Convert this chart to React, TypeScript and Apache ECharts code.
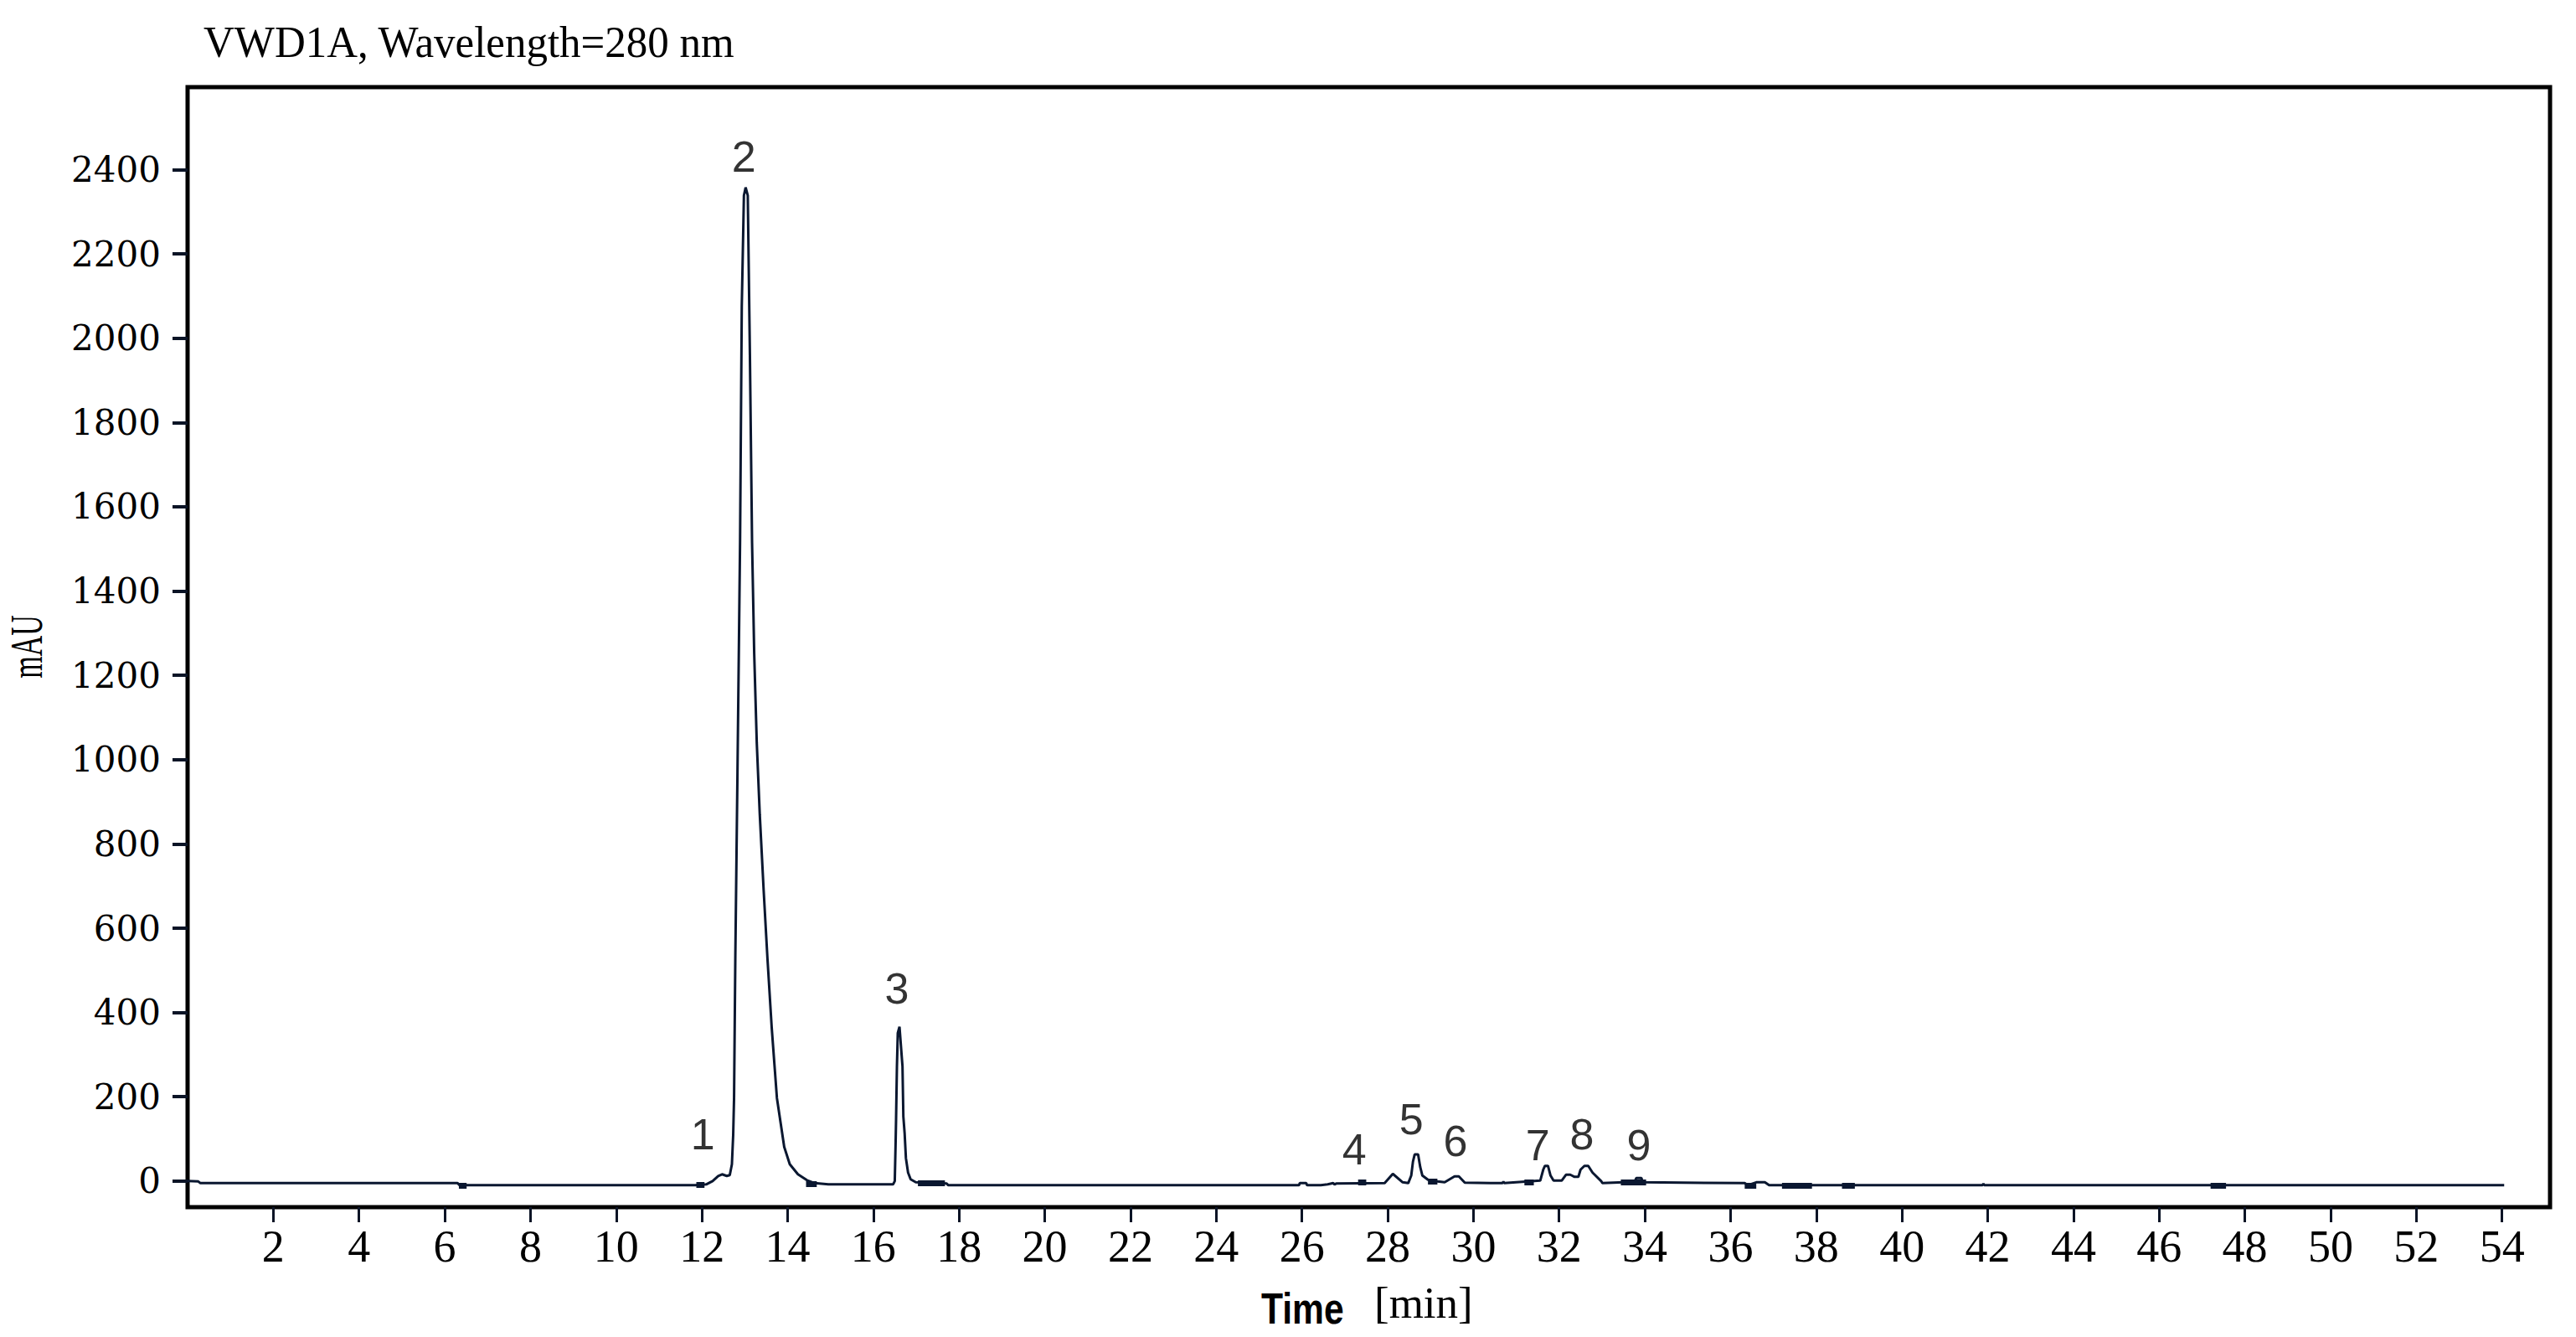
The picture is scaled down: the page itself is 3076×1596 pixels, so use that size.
import React, { useEffect, useRef } from "react";
import * as echarts from "echarts";

// ---- data ----
const timeMin = [
  0.0, 0.25, 0.3, 6.3, 6.35, 11.85, 12.1, 12.25, 12.38, 12.47, 12.58, 12.65, 12.7, 12.73, 12.75, 12.78,
  12.83, 12.89, 12.93, 12.98, 13.02, 13.07, 13.12, 13.17, 13.22, 13.28, 13.35, 13.44, 13.53, 13.63,
  13.75, 13.92, 14.05, 14.24, 14.45, 14.63, 14.95, 16.46, 16.5, 16.52, 16.53, 16.55, 16.57, 16.61,
  16.65, 16.68, 16.7, 16.73, 16.76, 16.81, 16.87, 16.99, 17.71, 17.75, 25.93, 25.95, 26.1, 26.12,
  26.44, 26.6, 26.73, 26.76, 26.8, 27.93, 28.12, 28.35, 28.48, 28.55, 28.59, 28.63, 28.71, 28.76,
  28.81, 28.94, 29.16, 29.33, 29.56, 29.66, 29.8, 30.68, 30.7, 30.72, 31.56, 31.63, 31.67, 31.74,
  31.8, 31.87, 32.06, 32.16, 32.26, 32.36, 32.45, 32.5, 32.59, 32.68, 32.78, 32.98, 33.01, 33.76,
  33.8, 33.92, 33.95, 36.33, 36.4, 36.6, 36.8, 36.9, 41.88, 41.9, 41.92, 54.05,
];
const signalMAU = [
  0, -1, -5, -5, -10, -10, -8, 0, 12, 16, 12, 14, 40, 110, 197, 535,
  971, 1516, 2074, 2339, 2358, 2339, 1959, 1516, 1252, 1040, 870, 691, 527, 362,
  197, 81, 40, 16, 2, -5, -8, -8, 0, 93, 146, 272, 351, 366,
  312, 272, 153, 113, 54, 20, 4, -3, -6, -10, -10, -5, -5, -10,
  -10, -8, -5, -8, -6, -5, 17, -3, -5, 13, 46, 63, 63, 33,
  13, 3, -1, -3, 11, 11, -4, -5, -1, -5, 1, 27, 36, 36,
  13, 1, 1, 15, 15, 10, 10, 27, 36, 36, 20, 0, -5, -2,
  7, 7, -3, -5, -10, -3, -3, -10, -10, -6, -10, -10,
];

// integration baseline markers (short thick segments on the trace)
const markerStart = [6.33, 11.87, 14.43, 17.04, 27.31, 28.94, 31.19, 33.44, 36.33, 37.2, 38.6, 47.2];
const markerEnd = [6.51, 12.06, 14.68, 17.67, 27.5, 29.16, 31.41, 34.03, 36.6, 37.9, 38.9, 47.56];
const markerLevel = [-10, -8, -6, -5, -2, -1, -3, -2, -10, -10, -10, -10];

const peakNames = ["1", "2", "3", "4", "5", "6", "7", "8", "9"];
const peakLabelTime = [12.02, 12.98, 16.55, 27.22, 28.55, 29.58, 31.5, 32.53, 33.86];
const peakLabelHeight = [111, 2431, 457, 76, 147, 95, 85, 111, 85];

const xTickValues = [2, 4, 6, 8, 10, 12, 14, 16, 18, 20, 22, 24, 26, 28, 30, 32, 34, 36, 38, 40, 42, 44, 46, 48, 50, 52, 54];
const yTickValues = [0, 200, 400, 600, 800, 1000, 1200, 1400, 1600, 1800, 2000, 2200, 2400];

const titleText = "VWD1A, Wavelength=280 nm";
const yAxisName = "mAU";
const xAxisNameMain = "Time";
const xAxisNameUnit = "[min]";

const X_MIN = 0;
const X_MAX = 55.12;
const Y_MIN = -62;
const Y_MAX = 2596;

const LINE_COLOR = "#0a1730";

export default function App() {
  const ref = useRef<HTMLDivElement | null>(null);

  useEffect(() => {
    if (!ref.current) return;
    const chart = echarts.init(ref.current, null, { renderer: "svg" });

    const lineData = timeMin.map((t, i) => [t, signalMAU[i]]);
    const labelData = peakNames.map((n, i) => ({ name: n, value: [peakLabelTime[i], peakLabelHeight[i]] }));
    const markerLines = markerStart.map((s, i) => [
      { coord: [s, markerLevel[i]] },
      { coord: [markerEnd[i], markerLevel[i]] },
    ]);

    chart.setOption({
      animation: false,
      backgroundColor: "#ffffff",
      grid: {
        show: true,
        left: 224,
        right: 31,
        top: 104,
        bottom: 155,
        containLabel: false,
        borderColor: "#000000",
        borderWidth: 5,
        backgroundColor: "transparent",
      },
      xAxis: {
        type: "value",
        min: X_MIN,
        max: X_MAX,
        axisLine: { show: false, onZero: false },
        splitLine: { show: false },
        axisTick: {
          show: true,
          inside: false,
          length: 18,
          customValues: xTickValues,
          lineStyle: { color: "#0b1426", width: 3 },
        },
        axisLabel: {
          show: true,
          customValues: xTickValues,
          formatter: (v: number) => String(v),
          fontFamily: "Liberation Serif",
          fontSize: 54,
          color: "#000000",
          margin: 20,
        },
      },
      yAxis: {
        type: "value",
        min: Y_MIN,
        max: Y_MAX,
        axisLine: { show: false, onZero: false },
        splitLine: { show: false },
        axisTick: {
          show: true,
          inside: false,
          length: 18,
          customValues: yTickValues,
          lineStyle: { color: "#0b1426", width: 4 },
        },
        axisLabel: {
          show: true,
          customValues: yTickValues,
          formatter: (v: number) => String(v),
          fontFamily: "DejaVu Serif",
          fontSize: 42,
          color: "#000000",
          margin: 32,
        },
      },
      graphic: [
        {
          type: "text",
          x: 243,
          y: 50,
          scaleX: 0.98,
          style: {
            text: titleText,
            fontFamily: "Liberation Serif",
            fontSize: 52,
            fill: "#000000",
            textAlign: "left",
            textVerticalAlign: "middle",
          },
        },
        {
          type: "text",
          x: 32,
          y: 772,
          rotation: Math.PI / 2,
          scaleX: 0.63,
          style: {
            text: yAxisName,
            fontFamily: "Liberation Serif",
            fontSize: 54,
            fill: "#000000",
            textAlign: "center",
            textVerticalAlign: "middle",
          },
        },
        {
          type: "text",
          x: 1506,
          y: 1562,
          scaleX: 0.82,
          style: {
            text: xAxisNameMain,
            fontFamily: "Liberation Sans",
            fontWeight: "bold",
            fontSize: 52,
            fill: "#000000",
            textAlign: "left",
            textVerticalAlign: "middle",
          },
        },
        {
          type: "text",
          x: 1641,
          y: 1555,
          style: {
            text: xAxisNameUnit,
            fontFamily: "Liberation Serif",
            fontSize: 53,
            fill: "#000000",
            textAlign: "left",
            textVerticalAlign: "middle",
          },
        },
      ],
      series: [
        {
          type: "line",
          data: lineData,
          showSymbol: false,
          symbol: "none",
          smooth: false,
          lineStyle: { color: LINE_COLOR, width: 3 },
          z: 2,
          markLine: {
            silent: true,
            symbol: ["none", "none"],
            label: { show: false },
            lineStyle: { color: LINE_COLOR, width: 7, type: "solid" },
            data: markerLines,
          },
        },
        {
          type: "scatter",
          data: labelData,
          symbolSize: 1,
          itemStyle: { color: "rgba(0,0,0,0)" },
          label: {
            show: true,
            position: "inside",
            formatter: "{b}",
            fontFamily: "Liberation Sans",
            fontSize: 52,
            color: "#000000",
          },
          z: 3,
        },
      ],
    });

    return () => {
      chart.dispose();
    };
  }, []);

  return (
    <div
      ref={ref}
      style={{ position: "fixed", left: 0, top: 0, width: 3076, height: 1596, background: "#ffffff" }}
    />
  );
}
